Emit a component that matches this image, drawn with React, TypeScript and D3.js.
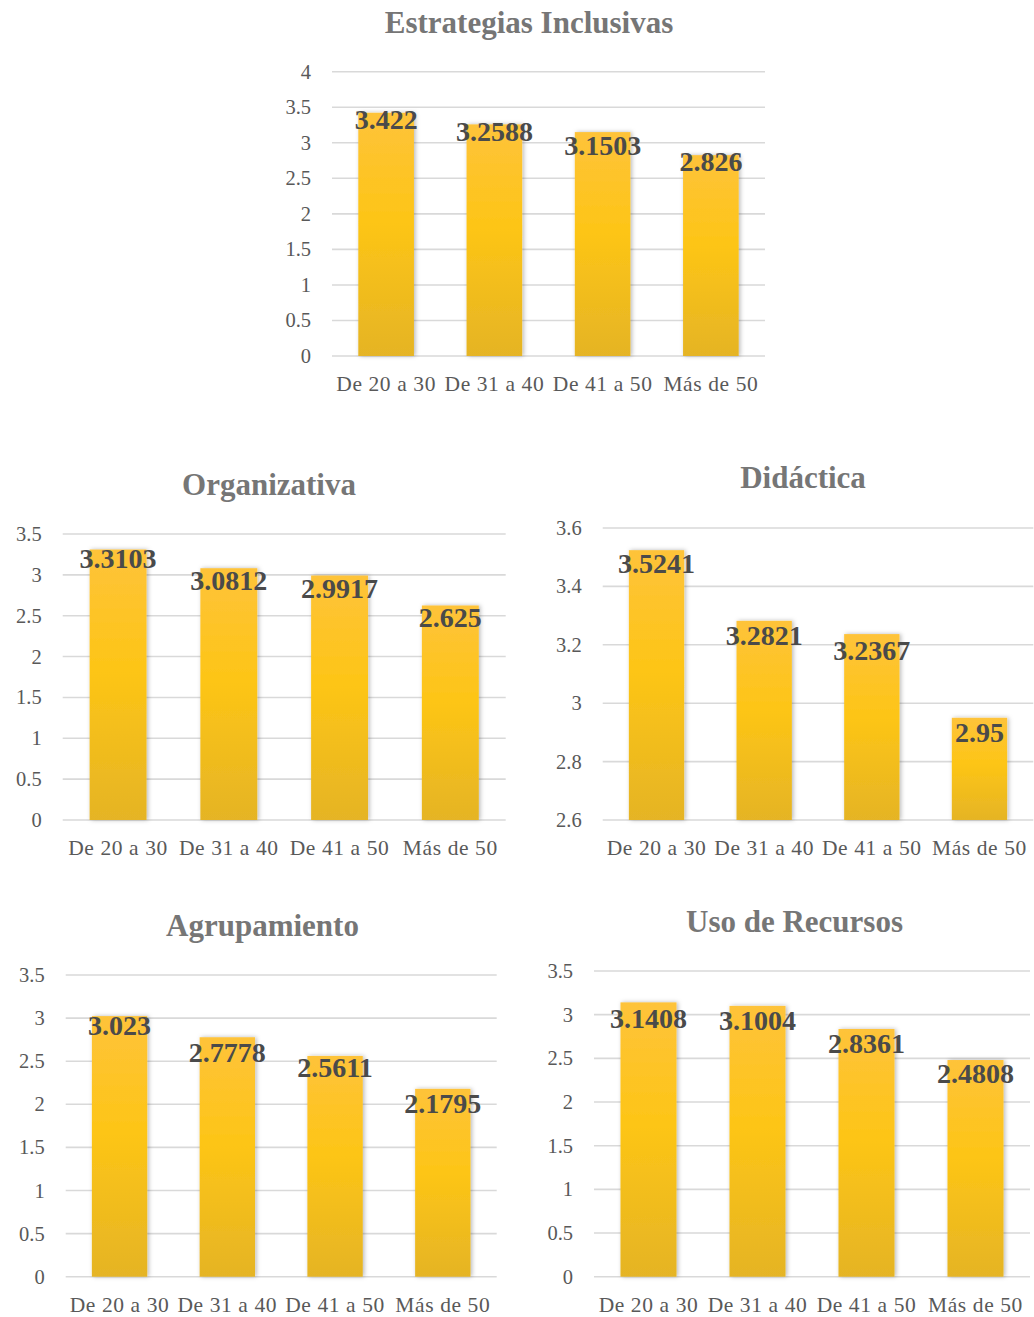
import React from "react";
import * as d3 from "d3";

const categories = ["De 20 a 30", "De 31 a 40", "De 41 a 50", "Más de 50"];

const inclusivasValues = [3.422, 3.2588, 3.1503, 2.826];
const organizativaValues = [3.3103, 3.0812, 2.9917, 2.625];
const didacticaValues = [3.5241, 3.2821, 3.2367, 2.95];
const agrupamientoValues = [3.023, 2.7778, 2.5611, 2.1795];
const recursosValues = [3.1408, 3.1004, 2.8361, 2.4808];

const ticks0to4 = [0, 0.5, 1, 1.5, 2, 2.5, 3, 3.5, 4];
const ticks0to35 = [0, 0.5, 1, 1.5, 2, 2.5, 3, 3.5];
const ticksDidactica = [2.6, 2.8, 3, 3.2, 3.4, 3.6];

type ChartCfg = {
  id: string;
  title: string;
  values: number[];
  ticks: number[];
  left: number;
  right: number;
  top: number;
  bottom: number;
  titleX: number;
  titleY: number;
  labelOffsets: number[];
};

const charts: ChartCfg[] = [
  { id: "c1", title: "Estrategias Inclusivas", values: inclusivasValues, ticks: ticks0to4, left: 332, right: 765, top: 71.7, bottom: 356, titleX: 529, titleY: 33, labelOffsets: [16.3, 16.4, 22.7, 15.6] },
  { id: "c2", title: "Organizativa", values: organizativaValues, ticks: ticks0to35, left: 62.7, right: 505.7, top: 534, bottom: 820, titleX: 269, titleY: 495, labelOffsets: [18.8, 21.8, 22.7, 21.2] },
  { id: "c3", title: "Didáctica", values: didacticaValues, ticks: ticksDidactica, left: 602.7, right: 1033.3, top: 528, bottom: 820, titleX: 803, titleY: 488, labelOffsets: [23.1, 24.2, 25.9, 23.9] },
  { id: "c4", title: "Agrupamiento", values: agrupamientoValues, ticks: ticks0to35, left: 65.7, right: 496.7, top: 975, bottom: 1276.7, titleX: 262.5, titleY: 936, labelOffsets: [18.9, 24.4, 20.8, 24.5] },
  { id: "c5", title: "Uso de Recursos", values: recursosValues, ticks: ticks0to35, left: 594, right: 1030, top: 971, bottom: 1276.7, titleX: 794.5, titleY: 931.7, labelOffsets: [25.9, 24.1, 24.3, 23.3] },
];

const FONT = "'Liberation Serif', 'Times New Roman', serif";

function Chart({ cfg }: { cfg: ChartCfg }) {
  const x = d3
    .scaleBand<string>()
    .domain(categories)
    .range([cfg.left, cfg.right])
    .paddingInner(0.486)
    .paddingOuter(0.243);
  const y = d3
    .scaleLinear()
    .domain([cfg.ticks[0], cfg.ticks[cfg.ticks.length - 1]])
    .range([cfg.bottom, cfg.top]);
  const bw = x.bandwidth();
  return (
    <g>
      <text x={cfg.titleX} y={cfg.titleY} textAnchor="middle" fontFamily={FONT} fontWeight="bold" fontSize={31} fill="#767676">
        {cfg.title}
      </text>
      {cfg.ticks.map((t) => (
        <g key={t}>
          <line x1={cfg.left} x2={cfg.right} y1={y(t)} y2={y(t)} stroke="#d9d9d9" strokeWidth={1.6} />
          <text x={cfg.left - 21} y={y(t) + 7} textAnchor="end" fontFamily={FONT} fontSize={20.5} fill="#595959">
            {String(t)}
          </text>
        </g>
      ))}
      {categories.map((c, i) => {
        const v = cfg.values[i];
        const bx = x(c) as number;
        const top = y(v);
        return (
          <rect key={c} x={bx} y={top} width={bw} height={cfg.bottom - top} fill="url(#barGrad)" filter="url(#barShadow)" />
        );
      })}
      {categories.map((c, i) => {
        const v = cfg.values[i];
        const cx = (x(c) as number) + bw / 2;
        return (
          <g key={c + "-lbl"}>
            <text x={cx} y={y(v) + cfg.labelOffsets[i]} textAnchor="middle" fontFamily={FONT} fontWeight="bold" fontSize={28} fill="#4a4a4a">
              {String(v)}
            </text>
            <text x={cx} y={cfg.bottom + 35} textAnchor="middle" fontFamily={FONT} fontSize={21.5} letterSpacing={0.6} fill="#595959">
              {c}
            </text>
          </g>
        );
      })}
    </g>
  );
}

export default function App() {
  return (
    <svg width={1034} height={1317} style={{ position: "absolute", left: 0, top: 0, background: "#ffffff" }}>
      <defs>
        <linearGradient id="barGrad" x1="0" y1="0" x2="0" y2="1">
          <stop offset="0%" stopColor="#FEC33A" />
          <stop offset="45%" stopColor="#FDC516" />
          <stop offset="100%" stopColor="#E5B425" />
        </linearGradient>
        <filter id="barShadow" x="-20%" y="-5%" width="140%" height="110%">
          <feDropShadow dx={1.5} dy={0} stdDeviation={2} floodColor="#000000" floodOpacity={0.28} />
        </filter>
      </defs>
      <rect x={0} y={0} width={1034} height={1317} fill="#ffffff" />
      {charts.map((c) => (
        <Chart key={c.id} cfg={c} />
      ))}
    </svg>
  );
}
